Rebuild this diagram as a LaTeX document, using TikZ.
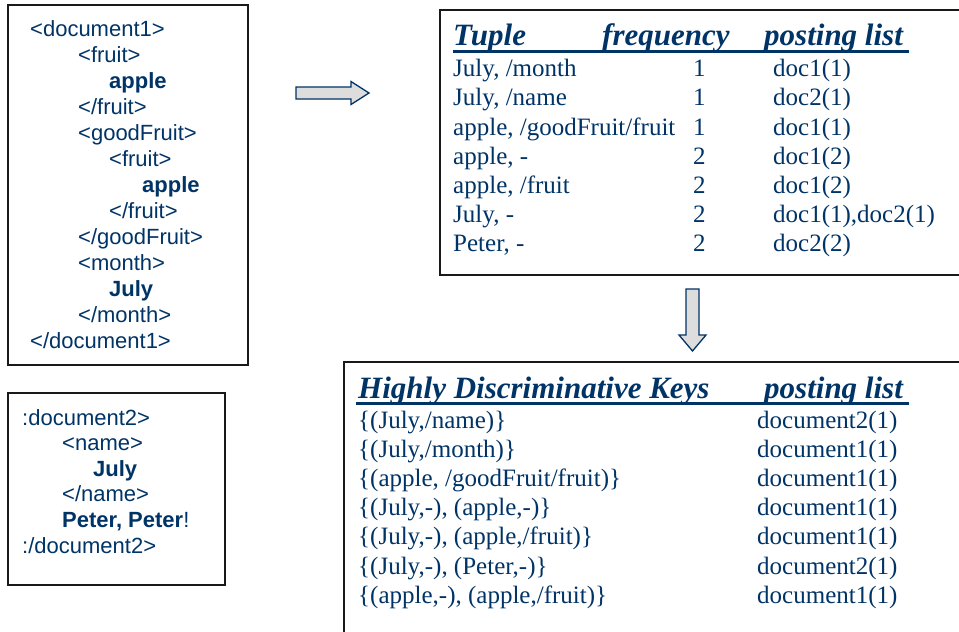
\documentclass[tikz,border=0pt]{standalone}
\usepackage{fontspec}
\setmainfont{Liberation Serif}
\newfontfamily\arialf{Liberation Sans}
\definecolor{navy}{RGB}{0,51,102}
\definecolor{arrowfill}{RGB}{221,221,221}
\begin{document}
\begin{tikzpicture}[x=1pt,y=-1pt,
  box/.style={draw=black!90,line width=2pt},
  xml/.style={anchor=base west,inner sep=0pt,text=navy,font=\arialf\fontsize{22}{22}\selectfont},
  xmlb/.style={xml,font=\arialf\bfseries\fontsize{22}{22}\selectfont},
  cell/.style={anchor=base west,inner sep=0pt,text=navy,font=\fontsize{25}{25}\selectfont},
  head/.style={anchor=base west,inner sep=0pt,text=navy,font=\bfseries\itshape\fontsize{31}{31}\selectfont},
  uline/.style={draw=navy,line width=3pt},
  blockarrow/.style={draw=navy,fill=arrowfill,line width=1.3pt,line join=miter}]

\useasboundingbox (0,0) rectangle (959,632);

% ---- boxes
\draw[box] (8,5) rectangle (248,365);
\draw[box] (8,393) rectangle (225,585);
\draw[box] (959,10) -- (440,10) -- (440,275) -- (959,275);
\draw[box] (959,362) -- (344,362) -- (344,632);

% ---- document1
\node[xml]  (d1a) at (30,36)  {<document1>};
\node[xml]  (d1b) at (78,62)  {<fruit>};
\node[xmlb] (d1c) at (109,88) {apple};
\node[xml]  (d1d) at (78,114) {</fruit>};
\node[xml]  (d1e) at (78,140) {<goodFruit>};
\node[xml]  (d1f) at (109,166) {<fruit>};
\node[xmlb] (d1g) at (142,192) {apple};
\node[xml]  (d1h) at (109,218) {</fruit>};
\node[xml]  (d1i) at (78,244) {</goodFruit>};
\node[xml]  (d1j) at (78,270) {<month>};
\node[xmlb] (d1k) at (109,296) {July};
\node[xml]  (d1l) at (78,322) {</month>};
\node[xml]  (d1m) at (30,348) {</document1>};

% ---- document2
\node[xml]  (d2a) at (22,425)   {:document2>};
\node[xml]  (d2b) at (62,450.6) {<name>};
\node[xmlb] (d2c) at (93,476.2) {July};
\node[xml]  (d2d) at (62,501.8) {</name>};
\node[xml]  (d2e) at (62,527.4) {\textbf{Peter, Peter}!};
\node[xml]  (d2f) at (22,553)   {:/document2>};

% ---- table 1
\node[head] (h1a) at (453,45) {Tuple};
\node[head] (h1b) at (602,45) {frequency};
\node[head] (h1c) at (764,45) {posting list};
\draw[uline] (453,51) -- (909,51);
\foreach \a/\b/\c [count=\i from 0] in {
  {July, /month}/1/doc1(1),
  {July, /name}/1/doc2(1),
  {apple, /goodFruit/fruit}/1/doc1(1),
  {apple, -}/2/doc1(2),
  {apple, /fruit}/2/doc1(2),
  {July, -}/2/{doc1(1),doc2(1)},
  {Peter, -}/2/doc2(2)}{
  \node[cell] (ta\i) at (453,76.7+29.2*\i) {\a};
  \node[cell] (tb\i) at (693,76.7+29.2*\i) {\b};
  \node[cell] (tc\i) at (773,76.7+29.2*\i) {\c};
}

% ---- table 2
\node[head] (h2a) at (358,398) {Highly Discriminative Keys};
\node[head] (h2b) at (764,398) {posting list};
\draw[uline] (356,403.5) -- (909,403.5);
\foreach \a/\b [count=\i from 0] in {
  {\{(July,/name)\}}/document2(1),
  {\{(July,/month)\}}/document1(1),
  {\{(apple, /goodFruit/fruit)\}}/document1(1),
  {\{(July,-), (apple,-)\}}/document1(1),
  {\{(July,-), (apple,/fruit)\}}/document1(1),
  {\{(July,-), (Peter,-)\}}/document2(1),
  {\{(apple,-), (apple,/fruit)\}}/document1(1)}{
  \node[cell] (ka\i) at (358,428+29.2*\i) {\a};
  \node[cell] (kb\i) at (757,428+29.2*\i) {\b};
}

% ---- block arrows
\draw[blockarrow] (296,87) -- (351,87) -- (351,81.5) -- (369,93) -- (351,104.5)
  -- (351,99) -- (296,99) -- cycle;
\draw[blockarrow] (686,289) -- (699,289) -- (699,335) -- (706,335) -- (692.5,351)
  -- (679,335) -- (686,335) -- cycle;
\end{tikzpicture}
\end{document}
